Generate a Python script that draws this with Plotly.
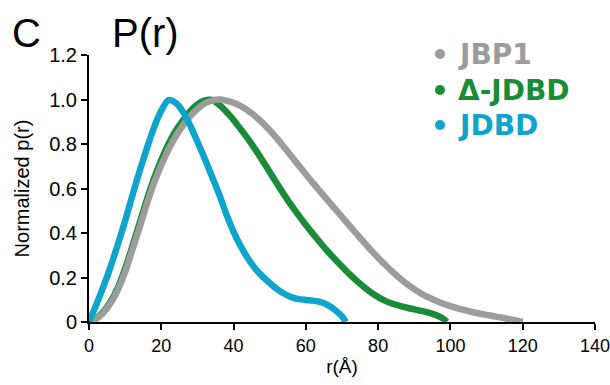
import plotly.graph_objects as go

# JBP1 (gray)
jbp1_r = [0, 2, 4, 6, 8, 10, 12, 14, 16, 18, 20, 22, 24, 26, 28, 30, 32, 34, 36, 38, 40,
          42, 44, 46, 48, 50, 52, 54, 56, 58, 60, 62, 64, 66, 68, 70, 72, 74, 76, 78, 80,
          82, 84, 86, 88, 90, 92, 94, 96, 98, 100, 102, 104, 106, 108, 110, 112, 114, 116, 118, 120]
jbp1_p = [0, 0.015, 0.042, 0.085, 0.145, 0.225, 0.325, 0.425, 0.53, 0.625, 0.705, 0.775,
          0.835, 0.883, 0.925, 0.958, 0.982, 0.995, 1.0, 0.995, 0.985,
          0.97, 0.95, 0.925, 0.895, 0.862, 0.825, 0.785, 0.745, 0.704, 0.664, 0.624, 0.586,
          0.548, 0.51, 0.472, 0.434, 0.397, 0.36, 0.323, 0.289,
          0.256, 0.225, 0.196, 0.17, 0.147, 0.127, 0.11, 0.095, 0.082, 0.071, 0.061, 0.053,
          0.045, 0.038, 0.032, 0.026, 0.02, 0.014, 0.007, 0]

# Δ-JDBD (green)
djdbd_r = [0, 2, 4, 6, 8, 10, 12, 14, 16, 18, 20, 22, 24, 26, 28, 30, 32, 34, 36, 38, 40,
           42, 44, 46, 48, 50, 52, 54, 56, 58, 60, 62, 64, 66, 68, 70, 72, 74, 76, 78, 80,
           82, 84, 86, 88, 90, 92, 94, 96, 98, 99]
djdbd_p = [0, 0.017, 0.047, 0.092, 0.155, 0.24, 0.34, 0.445, 0.55, 0.645, 0.728, 0.8,
           0.86, 0.906, 0.948, 0.978, 0.996, 0.998, 0.976, 0.945, 0.908,
           0.866, 0.823, 0.776, 0.726, 0.674, 0.622, 0.572, 0.524, 0.479, 0.436, 0.396, 0.356,
           0.318, 0.283, 0.249, 0.216, 0.186, 0.158, 0.133, 0.112,
           0.095, 0.082, 0.072, 0.064, 0.057, 0.05, 0.042, 0.032, 0.015, 0]

# JDBD (blue)
jdbd_r = [0, 2, 4, 6, 8, 10, 12, 14, 16, 18, 20, 22, 24, 26, 28, 30, 32, 34, 36, 38, 40,
          42, 44, 46, 48, 50, 52, 54, 56, 58, 60, 62, 64, 66, 68, 70, 71]
jdbd_p = [0, 0.077, 0.16, 0.25, 0.35, 0.455, 0.568, 0.678, 0.78, 0.875, 0.95, 0.997,
          0.985, 0.945, 0.883, 0.81, 0.735, 0.655, 0.575, 0.485, 0.405,
          0.34, 0.285, 0.24, 0.205, 0.175, 0.148, 0.127, 0.112, 0.103, 0.099, 0.096, 0.09,
          0.077, 0.055, 0.025, 0]

series_names = ["Δ-JDBD", "JBP1", "JDBD"]
series_r = [djdbd_r, jbp1_r, jdbd_r]
series_p = [djdbd_p, jbp1_p, jdbd_p]
colors = {"JBP1": "#9c9c9c", "Δ-JDBD": "#188c36", "JDBD": "#0fa4cc"}

x_ticks = [0, 20, 40, 60, 80, 100, 120, 140]
y_ticks = [0, 0.2, 0.4, 0.6, 0.8, 1.0, 1.2]
y_ticktext = ["0", "0.2", "0.4", "0.6", "0.8", "1.0", "1.2"]

legend_labels = ["JBP1", "Δ-JDBD", "JDBD"]

# plot-area geometry in pixels (for placing paper-referenced annotations)
W, H = 610, 385
L, R, T, B = 89, 15, 55, 63
PW, PH = W - L - R, H - T - B


def px(xp):
    return (xp - L) / PW


def py(yp):
    return (H - B - yp) / PH


fig = go.Figure()
for name, r, p in zip(series_names, series_r, series_p):
    fig.add_trace(go.Scatter(x=r, y=p, mode="lines", name=name,
                             line=dict(color=colors[name], width=6.5, shape="spline", smoothing=0.8),
                             showlegend=False))

font_family = "Liberation Sans, Arial, sans-serif"
fig.update_layout(
    template="none",
    width=W, height=H,
    margin=dict(l=L, r=R, t=T, b=B, pad=0),
    paper_bgcolor="white", plot_bgcolor="white",
    font=dict(family=font_family, color="black", size=18),
    xaxis=dict(range=[0, 140], tickvals=x_ticks, showline=True, linecolor="black", linewidth=2,
               ticks="outside", ticklen=6, tickwidth=2, tickcolor="black", showgrid=False,
               zeroline=False, tickfont=dict(size=18), automargin=False,
               ticklabeloverflow="allow",
               title=dict(text="r(Å)", font=dict(size=19), standoff=5)),
    yaxis=dict(range=[0, 1.2], tickvals=y_ticks, ticktext=y_ticktext, showline=True,
               linecolor="black", linewidth=2, ticks="outside", ticklen=6, tickwidth=2,
               tickcolor="black", showgrid=False, zeroline=False, tickfont=dict(size=20),
               automargin=False, ticklabeloverflow="allow",
               title=dict(text="Normalized p(r)", font=dict(size=20), standoff=14)),
)

# panel letter and title
fig.add_annotation(text="C", x=px(26), y=py(33), xref="paper", yref="paper",
                   showarrow=False, xanchor="center", yanchor="middle",
                   font=dict(size=40, family=font_family))
fig.add_annotation(text="P(r)", x=px(110), y=py(33), xref="paper", yref="paper",
                   showarrow=False, xanchor="left", yanchor="middle",
                   font=dict(size=40, family=font_family))

# legend (manual: colored dots and colored bold labels)
rows_y = [54, 90, 125]
for label, yy in zip(legend_labels, rows_y):
    c = colors[label]
    fig.add_shape(type="circle", xref="paper", yref="paper",
                  x0=px(435), x1=px(445), y0=py(yy + 5), y1=py(yy - 5),
                  fillcolor=c, line=dict(width=0))
    fig.add_annotation(text="<b>" + label + "</b>", x=px(456), y=py(yy),
                       xref="paper", yref="paper", showarrow=False, xanchor="left",
                       yanchor="middle", font=dict(size=28, color=c, family="DejaVu Sans"))

fig.write_html("out.html")
